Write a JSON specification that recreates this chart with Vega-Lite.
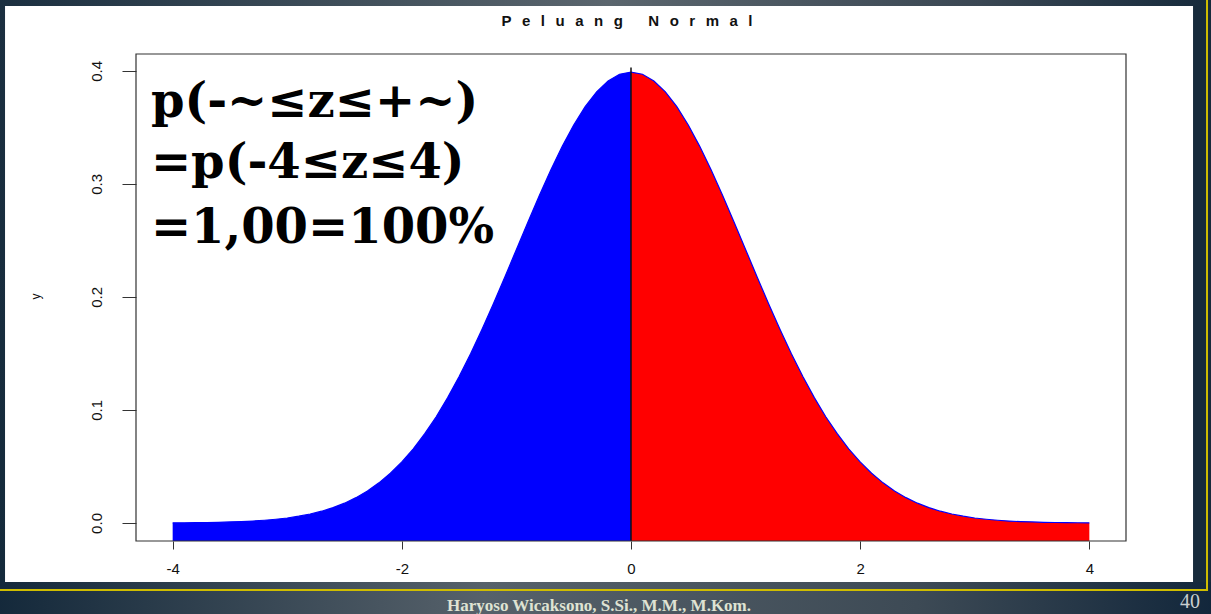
{
  "$schema": "https://vega.github.io/schema/vega-lite/v6.json",
  "width": 990,
  "height": 487,
  "autosize": {"type": "none"},
  "padding": {"left": 136, "top": 54, "right": 85, "bottom": 73},
  "background": "#ffffff",
  "config": {"view": {"stroke": null}},
  "datasets": {
    "curve": [
      {"x": -4.0, "y": 0.0001, "side": "left"},
      {"x": -3.9, "y": 0.0002, "side": "left"},
      {"x": -3.8, "y": 0.0003, "side": "left"},
      {"x": -3.7, "y": 0.0004, "side": "left"},
      {"x": -3.6, "y": 0.0006, "side": "left"},
      {"x": -3.5, "y": 0.0009, "side": "left"},
      {"x": -3.4, "y": 0.0012, "side": "left"},
      {"x": -3.3, "y": 0.0017, "side": "left"},
      {"x": -3.2, "y": 0.0024, "side": "left"},
      {"x": -3.1, "y": 0.0033, "side": "left"},
      {"x": -3.0, "y": 0.0044, "side": "left"},
      {"x": -2.9, "y": 0.0060, "side": "left"},
      {"x": -2.8, "y": 0.0079, "side": "left"},
      {"x": -2.7, "y": 0.0104, "side": "left"},
      {"x": -2.6, "y": 0.0136, "side": "left"},
      {"x": -2.5, "y": 0.0175, "side": "left"},
      {"x": -2.4, "y": 0.0224, "side": "left"},
      {"x": -2.3, "y": 0.0283, "side": "left"},
      {"x": -2.2, "y": 0.0355, "side": "left"},
      {"x": -2.1, "y": 0.0440, "side": "left"},
      {"x": -2.0, "y": 0.0540, "side": "left"},
      {"x": -1.9, "y": 0.0656, "side": "left"},
      {"x": -1.8, "y": 0.0790, "side": "left"},
      {"x": -1.7, "y": 0.0940, "side": "left"},
      {"x": -1.6, "y": 0.1109, "side": "left"},
      {"x": -1.5, "y": 0.1295, "side": "left"},
      {"x": -1.4, "y": 0.1497, "side": "left"},
      {"x": -1.3, "y": 0.1714, "side": "left"},
      {"x": -1.2, "y": 0.1942, "side": "left"},
      {"x": -1.1, "y": 0.2179, "side": "left"},
      {"x": -1.0, "y": 0.2420, "side": "left"},
      {"x": -0.9, "y": 0.2661, "side": "left"},
      {"x": -0.8, "y": 0.2897, "side": "left"},
      {"x": -0.7, "y": 0.3123, "side": "left"},
      {"x": -0.6, "y": 0.3332, "side": "left"},
      {"x": -0.5, "y": 0.3521, "side": "left"},
      {"x": -0.4, "y": 0.3683, "side": "left"},
      {"x": -0.3, "y": 0.3814, "side": "left"},
      {"x": -0.2, "y": 0.3910, "side": "left"},
      {"x": -0.1, "y": 0.3970, "side": "left"},
      {"x": 0.0, "y": 0.3989, "side": "left"},
      {"x": 0.0, "y": 0.3989, "side": "right"},
      {"x": 0.1, "y": 0.3970, "side": "right"},
      {"x": 0.2, "y": 0.3910, "side": "right"},
      {"x": 0.3, "y": 0.3814, "side": "right"},
      {"x": 0.4, "y": 0.3683, "side": "right"},
      {"x": 0.5, "y": 0.3521, "side": "right"},
      {"x": 0.6, "y": 0.3332, "side": "right"},
      {"x": 0.7, "y": 0.3123, "side": "right"},
      {"x": 0.8, "y": 0.2897, "side": "right"},
      {"x": 0.9, "y": 0.2661, "side": "right"},
      {"x": 1.0, "y": 0.2420, "side": "right"},
      {"x": 1.1, "y": 0.2179, "side": "right"},
      {"x": 1.2, "y": 0.1942, "side": "right"},
      {"x": 1.3, "y": 0.1714, "side": "right"},
      {"x": 1.4, "y": 0.1497, "side": "right"},
      {"x": 1.5, "y": 0.1295, "side": "right"},
      {"x": 1.6, "y": 0.1109, "side": "right"},
      {"x": 1.7, "y": 0.0940, "side": "right"},
      {"x": 1.8, "y": 0.0790, "side": "right"},
      {"x": 1.9, "y": 0.0656, "side": "right"},
      {"x": 2.0, "y": 0.0540, "side": "right"},
      {"x": 2.1, "y": 0.0440, "side": "right"},
      {"x": 2.2, "y": 0.0355, "side": "right"},
      {"x": 2.3, "y": 0.0283, "side": "right"},
      {"x": 2.4, "y": 0.0224, "side": "right"},
      {"x": 2.5, "y": 0.0175, "side": "right"},
      {"x": 2.6, "y": 0.0136, "side": "right"},
      {"x": 2.7, "y": 0.0104, "side": "right"},
      {"x": 2.8, "y": 0.0079, "side": "right"},
      {"x": 2.9, "y": 0.0060, "side": "right"},
      {"x": 3.0, "y": 0.0044, "side": "right"},
      {"x": 3.1, "y": 0.0033, "side": "right"},
      {"x": 3.2, "y": 0.0024, "side": "right"},
      {"x": 3.3, "y": 0.0017, "side": "right"},
      {"x": 3.4, "y": 0.0012, "side": "right"},
      {"x": 3.5, "y": 0.0009, "side": "right"},
      {"x": 3.6, "y": 0.0006, "side": "right"},
      {"x": 3.7, "y": 0.0004, "side": "right"},
      {"x": 3.8, "y": 0.0003, "side": "right"},
      {"x": 3.9, "y": 0.0002, "side": "right"},
      {"x": 4.0, "y": 0.0001, "side": "right"}
    ]
  },
  "layer": [
    {
      "data": {"name": "curve"},
      "mark": {"type": "area", "clip": false, "interpolate": "linear"},
      "encoding": {
        "x": {
          "field": "x", "type": "quantitative",
          "scale": {"domain": [-4.32, 4.32], "nice": false, "zero": false},
          "axis": {
            "title": null, "values": [-4, -2, 0, 2, 4], "labelExpr": "'' + datum.value",
            "domain": false, "grid": false, "tickSize": 8, "tickColor": "#333333", "tickWidth": 1,
            "labelFont": "Liberation Sans", "labelFontSize": 15, "labelColor": "#111111",
            "labelPadding": 12, "zindex": 1
          }
        },
        "y": {
          "field": "y", "type": "quantitative", "stack": null,
          "scale": {"domain": [-0.015958, 0.414898], "nice": false, "zero": false},
          "axis": {
            "title": "y", "titleFont": "Liberation Sans", "titleFontSize": 12, "titleFontWeight": "normal",
            "titleColor": "#111111", "titleAngle": -90, "titleX": -101, "titleY": 242,
            "titleAlign": "center", "titleBaseline": "middle",
            "values": [0, 0.1, 0.2, 0.3, 0.4], "format": ".1f",
            "domain": false, "grid": false, "tickSize": 14, "tickColor": "#333333", "tickWidth": 1,
            "labelFont": "Liberation Sans", "labelFontSize": 15, "labelColor": "#111111",
            "labelAngle": -90, "labelAlign": "center", "labelBaseline": "bottom",
            "labelPadding": 18, "zindex": 1
          }
        },
        "y2": {"datum": -0.015958},
        "color": {"field": "side", "type": "nominal", "scale": {"domain": ["left", "right"], "range": ["#0000ff", "#ff0000"]}, "legend": null}
      }
    },
    {
      "data": {"values": [{}]},
      "mark": {"type": "rect", "clip": false, "fill": {"gradient": "linear", "x1": 0, "y1": 0, "x2": 1, "y2": 0, "stops": [{"offset": 0, "color": "#1a2e3f"}, {"offset": 0.5, "color": "#5b666e"}, {"offset": 0.8, "color": "#3a4753"}, {"offset": 1, "color": "#13283a"}]}},
      "encoding": {
        "x": {"datum": -5.6, "type": "quantitative"},
        "x2": {"datum": 5.2},
        "y": {"datum": 0.47, "type": "quantitative"},
        "y2": {"datum": 0.4574}
      }
    },
    {
      "data": {"values": [{}]},
      "mark": {"type": "rect", "clip": false, "fill": {"gradient": "linear", "x1": 0, "y1": 0, "x2": 1, "y2": 0, "stops": [{"offset": 0, "color": "#13283a"}, {"offset": 0.4, "color": "#56616a"}, {"offset": 0.75, "color": "#3d4a55"}, {"offset": 1, "color": "#10253a"}]}},
      "encoding": {
        "x": {"datum": -5.6, "type": "quantitative"},
        "x2": {"datum": 5.2},
        "y": {"datum": -0.0522, "type": "quantitative"},
        "y2": {"datum": -0.09}
      }
    },
    {
      "data": {"values": [{}]},
      "mark": {"type": "rect", "clip": false, "fill": {"gradient": "linear", "x1": 0, "y1": 0, "x2": 0, "y2": 1, "stops": [{"offset": 0, "color": "#1b2f40"}, {"offset": 1, "color": "#142a3b"}]}},
      "encoding": {
        "x": {"datum": -5.6, "type": "quantitative"},
        "x2": {"datum": -5.463},
        "y": {"datum": 0.4574, "type": "quantitative"},
        "y2": {"datum": -0.0522}
      }
    },
    {
      "data": {"values": [{}]},
      "mark": {"type": "rect", "clip": false, "fill": "#172b3c"},
      "encoding": {
        "x": {"datum": 4.905, "type": "quantitative"},
        "x2": {"datum": 5.2},
        "y": {"datum": 0.4574, "type": "quantitative"},
        "y2": {"datum": -0.0522}
      }
    },
    {
      "data": {"values": [{}]},
      "mark": {"type": "rule", "clip": false, "color": "#cfbd00", "strokeWidth": 2},
      "encoding": {
        "x": {"datum": -5.6, "type": "quantitative"},
        "x2": {"datum": 5.036},
        "y": {"datum": -0.0593, "type": "quantitative"}
      }
    },
    {
      "data": {"values": [{}]},
      "mark": {"type": "rule", "clip": false, "color": "#cfbd00", "strokeWidth": 2},
      "encoding": {
        "x": {"datum": 5.027, "type": "quantitative"},
        "y": {"datum": 0.47, "type": "quantitative"},
        "y2": {"datum": -0.0593}
      }
    },
    {
      "data": {"name": "curve"},
      "mark": {"type": "line", "clip": false, "color": "#0000ff", "strokeWidth": 1.2},
      "encoding": {
        "x": {"field": "x", "type": "quantitative"},
        "y": {"field": "y", "type": "quantitative"},
        "order": {"field": "x", "type": "quantitative"}
      }
    },
    {
      "data": {"values": [{}]},
      "mark": {"type": "rule", "clip": false, "color": "#111111", "strokeWidth": 1.5},
      "encoding": {
        "x": {"datum": 0, "type": "quantitative"},
        "y": {"datum": -0.015958, "type": "quantitative"},
        "y2": {"datum": 0.403}
      }
    },
    {
      "data": {"values": [{}]},
      "mark": {"type": "rect", "clip": false, "fill": null, "fillOpacity": 0, "stroke": "#333333", "strokeWidth": 1.2},
      "encoding": {
        "x": {"datum": -4.32, "type": "quantitative"},
        "x2": {"datum": 4.32},
        "y": {"datum": -0.015958, "type": "quantitative"},
        "y2": {"datum": 0.414898}
      }
    },
    {
      "data": {"values": [{"label": "P\u2002\u2009e\u2002\u2009l\u2002\u2009u\u2002\u2009a\u2002\u2009n\u2002\u2009g\u2003\u2002\u2009N\u2002\u2009o\u2002\u2009r\u2002\u2009m\u2002\u2009a\u2002\u2009l"}]},
      "mark": {"type": "text", "clip": false, "align": "center", "baseline": "alphabetic", "font": "Liberation Sans", "fontWeight": "bold", "fontSize": 15, "color": "#111111"},
      "encoding": {
        "x": {"datum": -0.035, "type": "quantitative"},
        "y": {"datum": 0.4397, "type": "quantitative"},
        "text": {"field": "label"}
      }
    },
    {
      "data": {"values": [{"label": "p(-~≤z≤+~)"}]},
      "mark": {"type": "text", "clip": false, "align": "left", "baseline": "alphabetic", "font": "DejaVu Serif", "fontWeight": "bold", "fontSize": 48, "color": "#000000"},
      "encoding": {
        "x": {"datum": -4.19, "type": "quantitative"},
        "y": {"datum": 0.3592, "type": "quantitative"},
        "text": {"field": "label"}
      }
    },
    {
      "data": {"values": [{"label": "=p(-4≤z≤4)"}]},
      "mark": {"type": "text", "clip": false, "align": "left", "baseline": "alphabetic", "font": "DejaVu Serif", "fontWeight": "bold", "fontSize": 48, "color": "#000000"},
      "encoding": {
        "x": {"datum": -4.19, "type": "quantitative"},
        "y": {"datum": 0.3052, "type": "quantitative"},
        "text": {"field": "label"}
      }
    },
    {
      "data": {"values": [{"label": "=1,00=100%"}]},
      "mark": {"type": "text", "clip": false, "align": "left", "baseline": "alphabetic", "font": "DejaVu Serif", "fontWeight": "bold", "fontSize": 48, "color": "#000000"},
      "encoding": {
        "x": {"datum": -4.19, "type": "quantitative"},
        "y": {"datum": 0.2477, "type": "quantitative"},
        "text": {"field": "label"}
      }
    },
    {
      "data": {"values": [{"label": "Haryoso Wicaksono, S.Si., M.M., M.Kom."}]},
      "mark": {"type": "text", "clip": false, "align": "center", "baseline": "alphabetic", "font": "Liberation Serif", "fontWeight": "bold", "fontSize": 17, "color": "#dfe3d3"},
      "encoding": {
        "x": {"datum": -0.279, "type": "quantitative"},
        "y": {"datum": -0.0779, "type": "quantitative"},
        "text": {"field": "label"}
      }
    },
    {
      "data": {"values": [{"label": "40"}]},
      "mark": {"type": "text", "clip": false, "align": "center", "baseline": "alphabetic", "font": "Liberation Serif", "fontSize": 20, "color": "#c9ced0"},
      "encoding": {
        "x": {"datum": 4.879, "type": "quantitative"},
        "y": {"datum": -0.0752, "type": "quantitative"},
        "text": {"field": "label"}
      }
    }
  ]
}
